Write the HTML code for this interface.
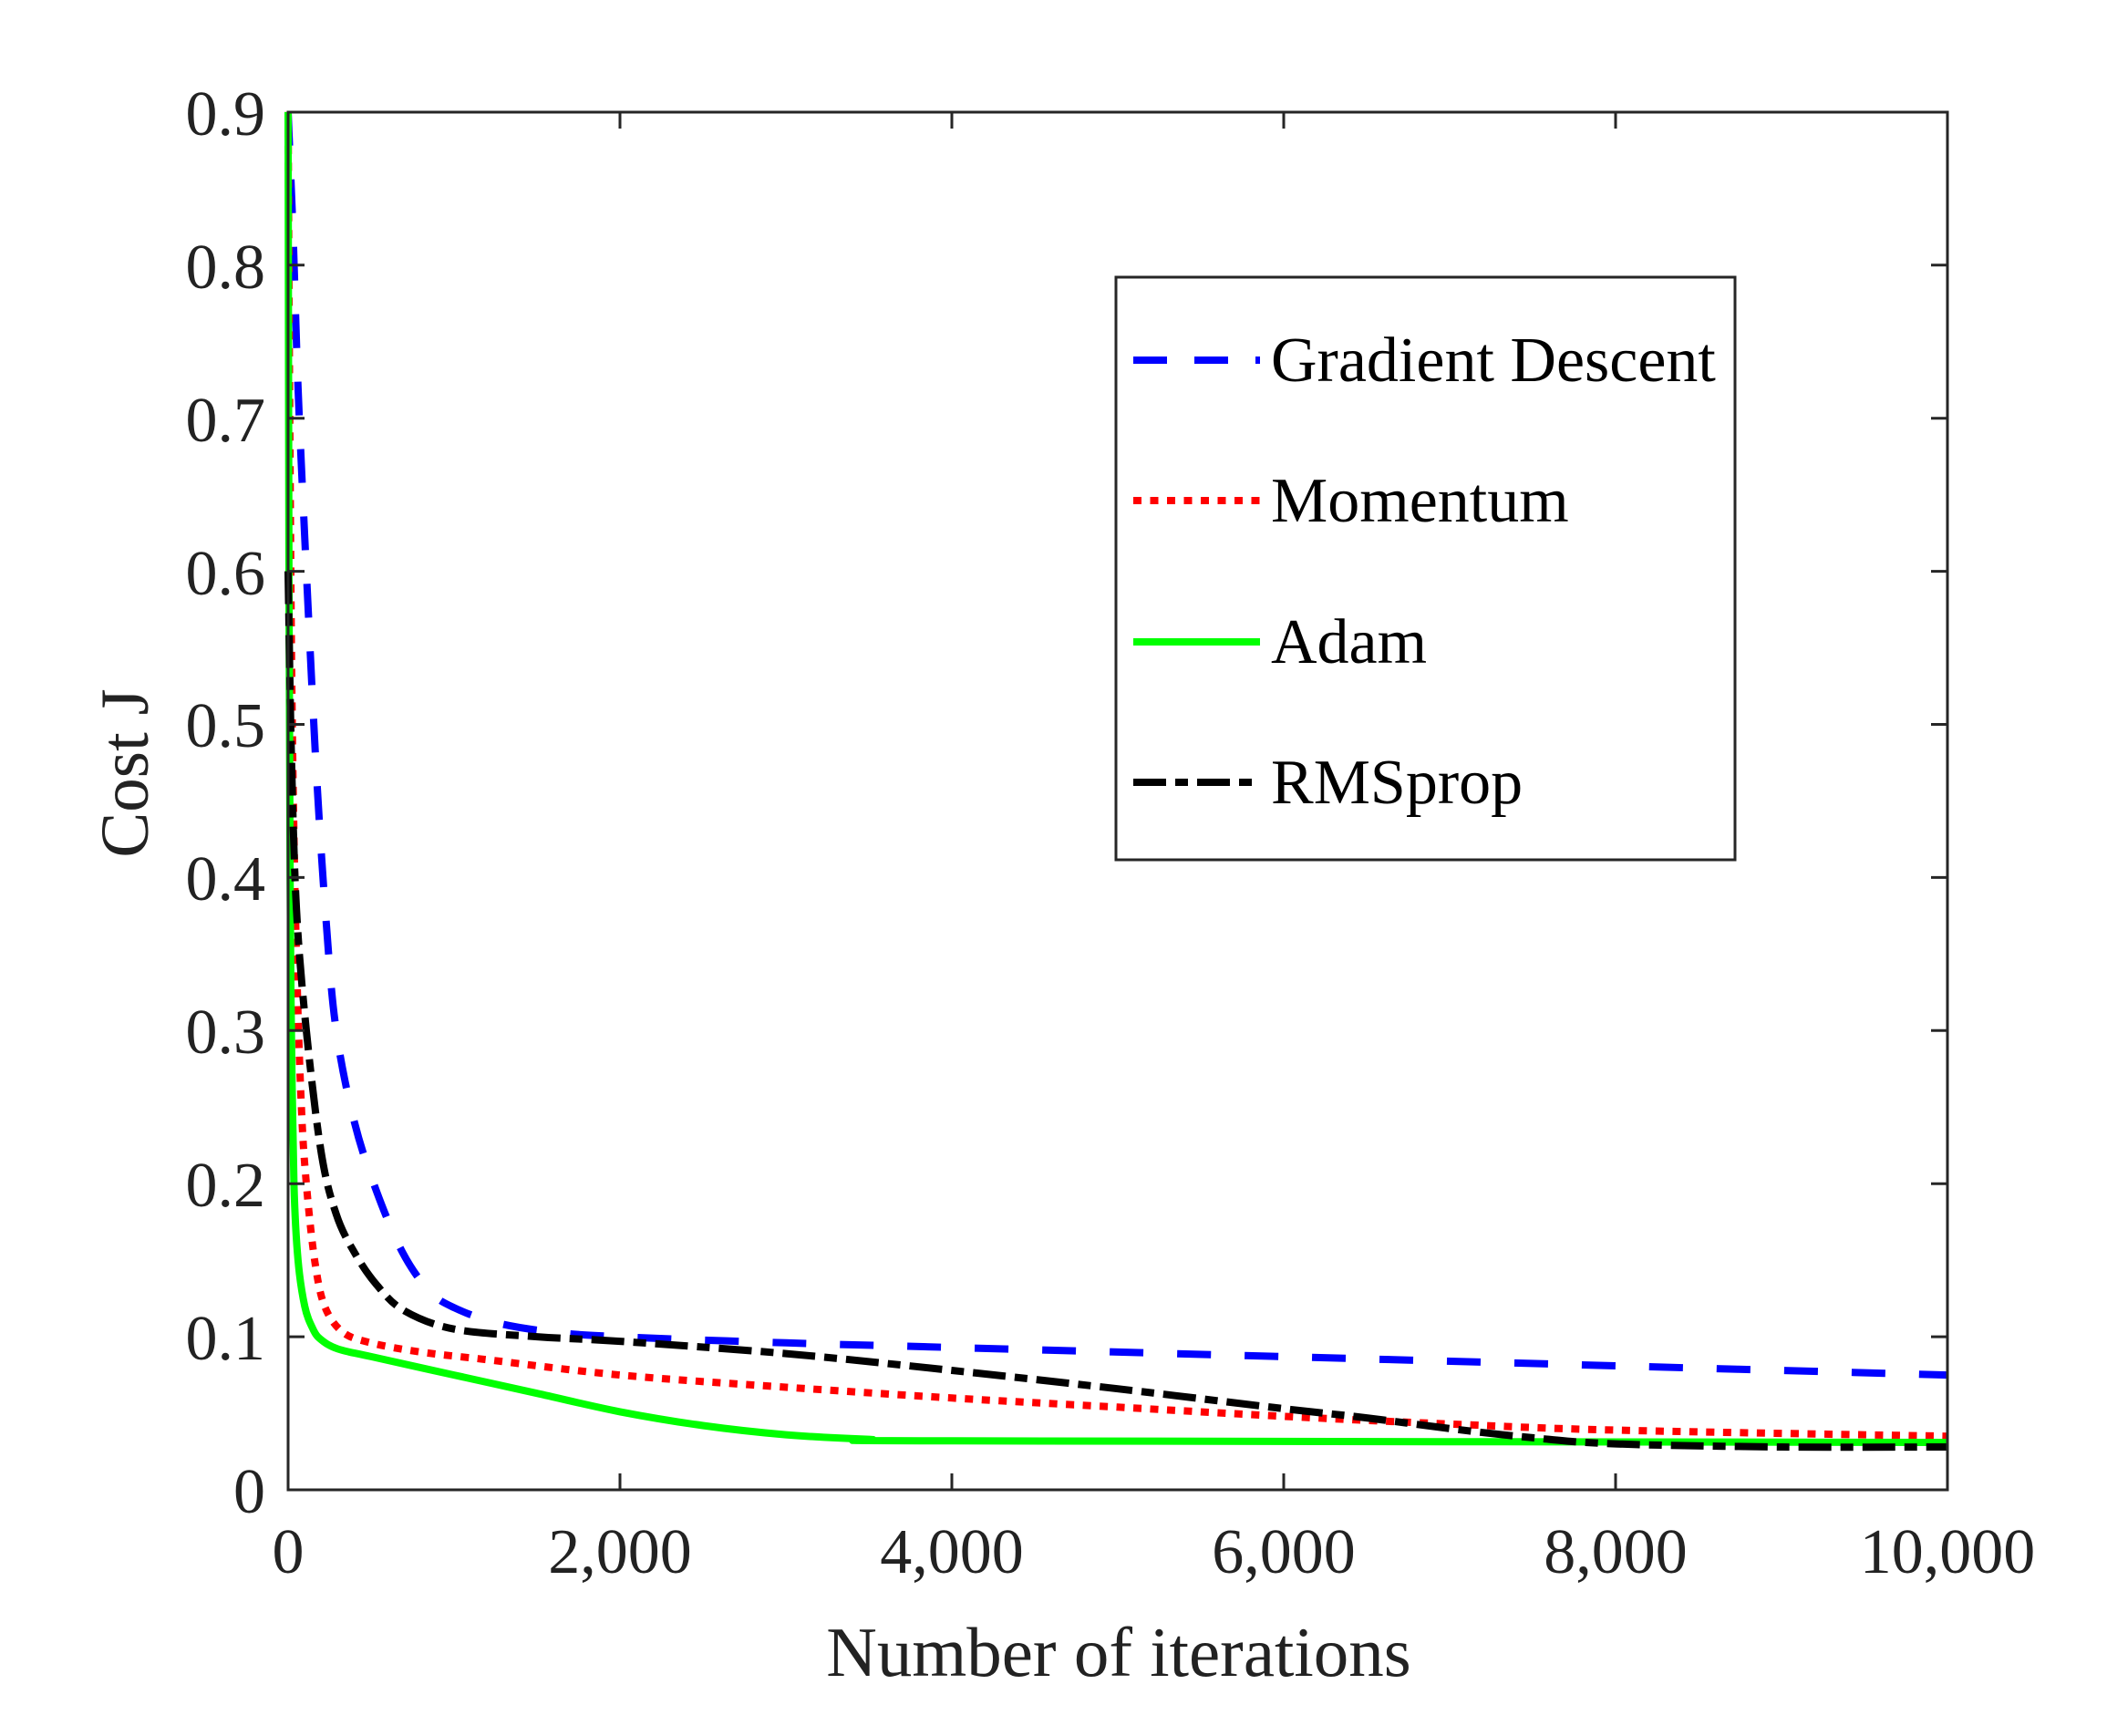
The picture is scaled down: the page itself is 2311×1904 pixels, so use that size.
<!DOCTYPE html>
<html><head><meta charset="utf-8"><style>
html,body{margin:0;padding:0;background:#fff;}
svg{display:block;}
text{font-family:"Liberation Serif",serif;fill:#222;}
</style></head><body>
<svg id="s" width="2311" height="1904" viewBox="0 0 2311 1904" xmlns="http://www.w3.org/2000/svg">
<rect width="2311" height="1904" fill="#fff"/>
<g id="curves" fill="none" stroke-width="8" stroke-linejoin="round"></g>
<g stroke="#262626" stroke-width="3" fill="none">
<rect x="316" y="123" width="1820" height="1511"/>
<path id="ticks" d=""/>
</g>
<g font-size="70" text-anchor="end">
<text x="291" y="1659">0</text>
<text x="291" y="1491">0.1</text>
<text x="291" y="1323">0.2</text>
<text x="291" y="1155">0.3</text>
<text x="291" y="987">0.4</text>
<text x="291" y="819">0.5</text>
<text x="291" y="652">0.6</text>
<text x="291" y="484">0.7</text>
<text x="291" y="316">0.8</text>
<text x="291" y="148">0.9</text>
</g>
<g font-size="70" text-anchor="middle">
<text x="316" y="1725">0</text>
<text x="680" y="1725">2,000</text>
<text x="1044" y="1725">4,000</text>
<text x="1408" y="1725">6,000</text>
<text x="1772" y="1725">8,000</text>
<text x="2136" y="1725">10,000</text>
<text x="1227" y="1838" font-size="77">Number of iterations</text>
<text transform="translate(162,848) rotate(-90)" font-size="75">Cost J</text>
</g>
<rect x="1224" y="304" width="679" height="639" fill="#fff" stroke="#262626" stroke-width="3"/>
<g stroke-width="8" fill="none">
<line x1="1243" y1="395" x2="1382" y2="395" stroke="#0000ff" stroke-dasharray="37,30"/>
<line x1="1243" y1="549" x2="1382" y2="549" stroke="#ff0000" stroke-dasharray="9,9.5"/>
<line x1="1243" y1="704" x2="1382" y2="704" stroke="#00ff00"/>
<line x1="1243" y1="858" x2="1382" y2="858" stroke="#000" stroke-dasharray="36,10,14,10"/>
</g>
<g font-size="70">
<text x="1394" y="418" style="fill:#000">Gradient Descent</text>
<text x="1394" y="572" style="fill:#000">Momentum</text>
<text x="1394" y="727" style="fill:#000">Adam</text>
<text x="1394" y="881" style="fill:#000">RMSprop</text>
</g>
</svg>
<script>
(function(){
var X=function(x){return 316+x*0.182;},Y=function(y){return 1634-y*1679;};
function path(pts){
  var P=pts.map(function(p){return [X(p[0]),Y(p[1])];});
  var d='M'+P[0][0].toFixed(1)+','+P[0][1].toFixed(1);
  for(var i=0;i<P.length-1;i++){
    var p0=P[i-1]||P[i],p1=P[i],p2=P[i+1],p3=P[i+2]||P[i+1];
    var c1=[p1[0]+(p2[0]-p0[0])/6,p1[1]+(p2[1]-p0[1])/6];
    var c2=[p2[0]-(p3[0]-p1[0])/6,p2[1]-(p3[1]-p1[1])/6];
    d+='C'+c1[0].toFixed(1)+','+c1[1].toFixed(1)+' '+c2[0].toFixed(1)+','+c2[1].toFixed(1)+' '+p2[0].toFixed(1)+','+p2[1].toFixed(1);
  }
  return d;
}
var series=[
 {c:'#0000ff',da:'37,37',p:[[0,0.9],[30,0.82],[60,0.72],[110,0.6],[170,0.47],[230,0.37],[290,0.3],[400,0.24],[533,0.195],[690,0.155],[850,0.13],[1000,0.119],[1260,0.109],[1600,0.103],[2000,0.1],[3000,0.096],[4000,0.093],[6000,0.087],[8000,0.081],[10000,0.075]]},
 {c:'#ff0000',da:'9,9.5',p:[[0,0.9],[10,0.7],[25,0.5],[50,0.35],[80,0.25],[110,0.2],[160,0.15],[220,0.12],[330,0.103],[500,0.096],[800,0.09],[1200,0.085],[2000,0.075],[3000,0.067],[4000,0.06],[5000,0.054],[6000,0.048],[7000,0.043],[8000,0.039],[10000,0.035]]},
 {c:'#00ff00',da:'',p:[[0,0.9],[5,0.6],[12,0.4],[20,0.3],[35,0.2],[60,0.15],[100,0.12],[150,0.105],[200,0.098],[300,0.092],[500,0.087],[1000,0.075],[1500,0.063],[2000,0.051],[2500,0.042],[3000,0.036],[3500,0.033],[4000,0.032],[10000,0.031]]},
 {c:'#000000',da:'36,10,14,10',p:[[0,0.6],[20,0.48],[50,0.38],[110,0.3],[200,0.22],[290,0.18],[400,0.155],[533,0.134],[700,0.117],[1000,0.105],[1500,0.1],[2000,0.097],[3000,0.089],[4000,0.078],[5000,0.066],[6000,0.053],[6500,0.047],[7000,0.04],[7500,0.034],[8000,0.03],[9000,0.028],[10000,0.028]]}
];
var g=document.getElementById('curves'),ns='http://www.w3.org/2000/svg';
series.forEach(function(s){var e=document.createElementNS(ns,'path');e.setAttribute('d',path(s.p));e.setAttribute('stroke',s.c);if(s.da)e.setAttribute('stroke-dasharray',s.da);g.appendChild(e);});
var t='';
for(var i=1;i<5;i++){var x=316+i*364;t+='M'+x+',1634v-18M'+x+',123v18';}
for(var j=1;j<9;j++){var y=1634-j*167.9;t+='M316,'+y.toFixed(1)+'h18M2136,'+y.toFixed(1)+'h-18';}
document.getElementById('ticks').setAttribute('d',t);
})();
</script>
</body></html>
